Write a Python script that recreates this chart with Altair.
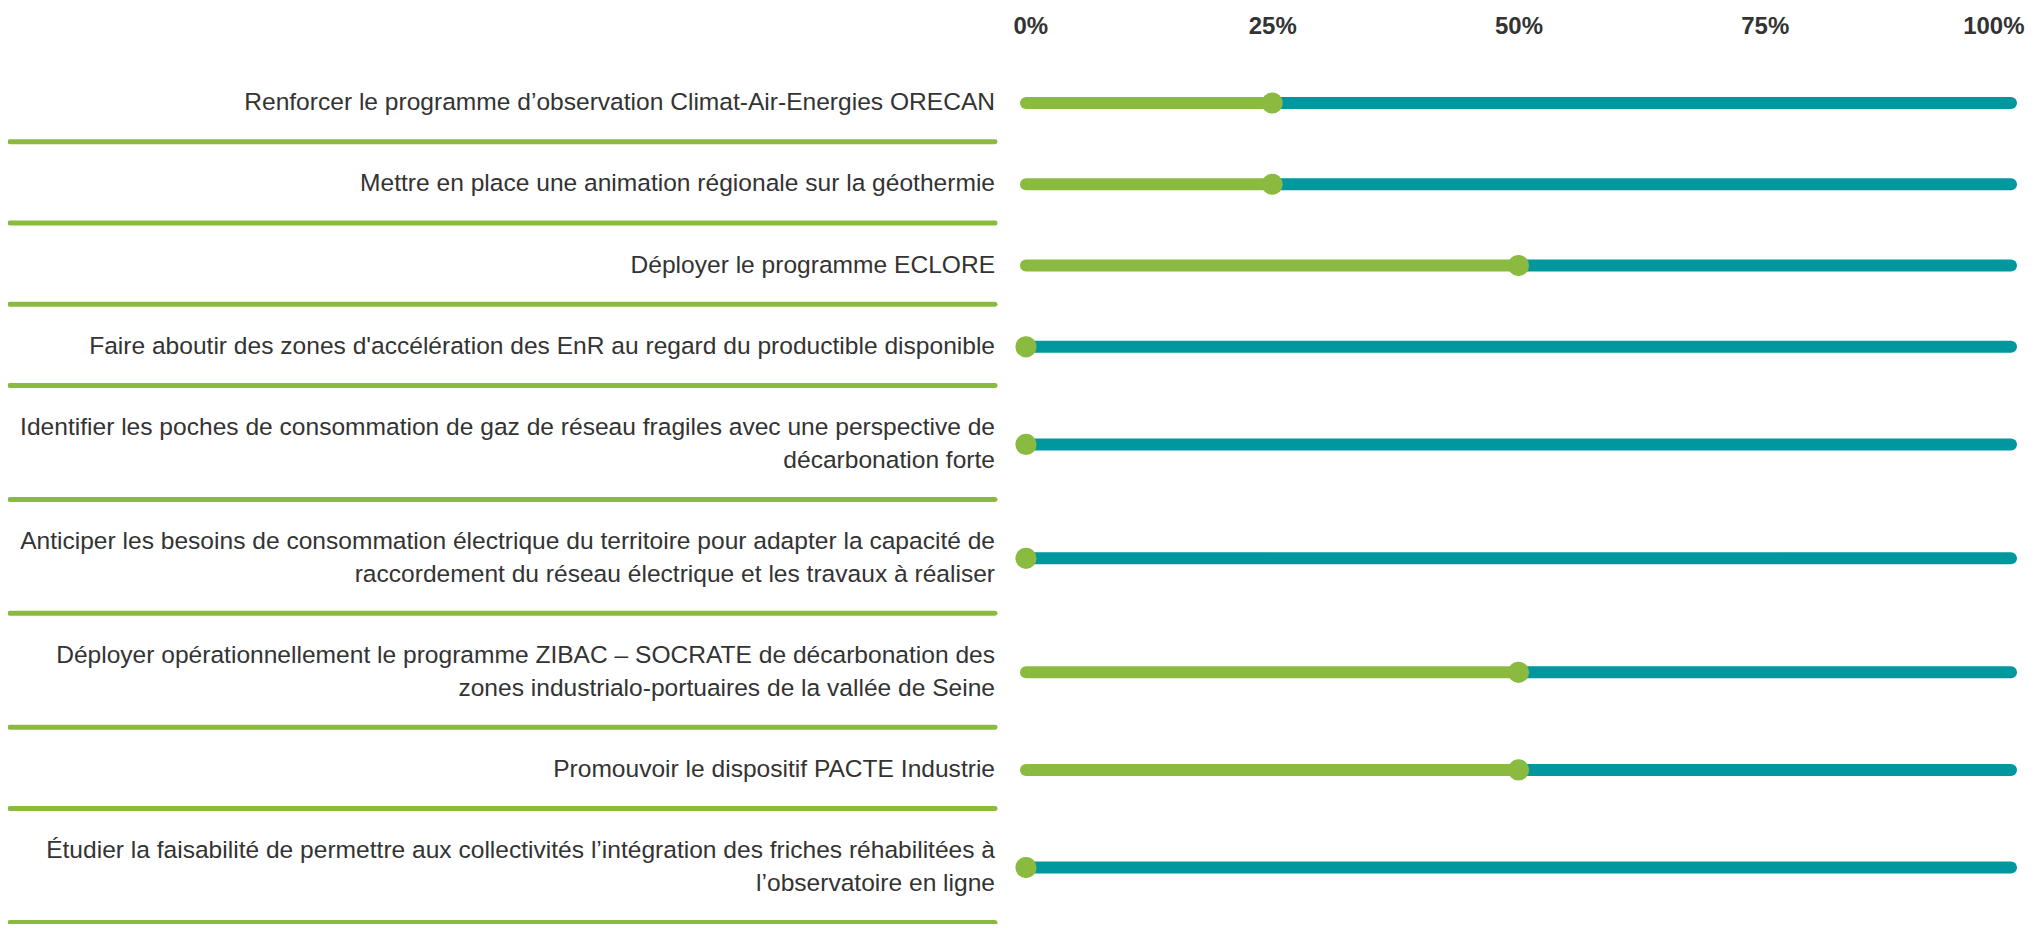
import altair as alt
import pandas as pd

labels = [
    "Renforcer le programme d’observation Climat-Air-Energies ORECAN",
    "Mettre en place une animation régionale sur la géothermie",
    "Déployer le programme ECLORE",
    "Faire aboutir des zones d'accélération des EnR au regard du productible disponible",
    "Identifier les poches de consommation de gaz de réseau fragiles avec une perspective de\ndécarbonation forte",
    "Anticiper les besoins de consommation électrique du territoire pour adapter la capacité de\nraccordement du réseau électrique et les travaux à réaliser",
    "Déployer opérationnellement le programme ZIBAC – SOCRATE de décarbonation des\nzones industrialo-portuaires de la vallée de Seine",
    "Promouvoir le dispositif PACTE Industrie",
    "Étudier la faisabilité de permettre aux collectivités l’intégration des friches réhabilitées à\nl’observatoire en ligne",
]
values = [25, 25, 50, 0, 0, 0, 50, 50, 0]
tick_values = [0, 25, 50, 75, 100]

GREEN = "#8ABA3F"
TEAL = "#00979F"
TEXT = "#333333"
LINE_H = 33

# row layout: rows with two text lines are taller
n_lines = [lab.count("\n") + 1 for lab in labels]
row_h = [82 + LINE_H * (n - 1) for n in n_lines]
centers, bottoms, text_y = [], [], []
acc = 0
for h, n in zip(row_h, n_lines):
    c = acc + h / 2 + 2
    centers.append(c)
    text_y.append(c - LINE_H * (n - 1) / 2)
    acc += h
    bottoms.append(acc)
total = acc

df = pd.DataFrame({
    "label": labels,
    "value": values,
    "full": [100] * len(labels),
    "zero": [0] * len(labels),
    "center": centers,
    "text_y": text_y,
    "bottom": bottoms,
})

xscale = alt.Scale(domain=[0, 100], nice=False)
yscale = alt.Scale(domain=[0, total], reverse=True, nice=False, zero=False)

xaxis = alt.Axis(
    orient="top", values=tick_values, labelExpr="datum.value + '%'",
    title=None, domain=False, ticks=False, tickSize=0, grid=False,
    labelFontWeight="bold", labelFontSize=24, labelColor=TEXT,
    labelFont="Liberation Sans", labelPadding=22, labelFlush=True,
    labelFlushOffset=13,
)

X = lambda f: alt.X(f, scale=xscale, axis=xaxis)
Y = lambda f: alt.Y(f, scale=yscale, axis=None)

base = alt.Chart(df)

teal = base.mark_rule(color=TEAL, strokeWidth=12, strokeCap="round").encode(
    x=X("value:Q"), x2="full:Q", y=Y("center:Q"),
)

green = base.transform_filter("datum.value > 0").mark_rule(
    color=GREEN, strokeWidth=12, strokeCap="round"
).encode(x=X("zero:Q"), x2="value:Q", y=Y("center:Q"))

dots = base.mark_circle(color=GREEN, size=450, opacity=1).encode(
    x=X("value:Q"), y=Y("center:Q"),
)

text = base.mark_text(
    align="right", baseline="middle", fontSize=24.6, font="Liberation Sans",
    color=TEXT, lineBreak="\n", lineHeight=LINE_H,
).encode(x=alt.value(-31), y=Y("text_y:Q"), text="label:N")

seps = base.mark_rule(color=GREEN, strokeWidth=5, strokeCap="round").encode(
    x=alt.value(-1017), x2=alt.value(-31), y=Y("bottom:Q"),
)

chart = alt.layer(teal, green, dots, seps, text).properties(
    width=986,
    height=863,
    autosize=alt.AutoSizeParams(type="none"),
    padding={"left": 1019, "top": 52, "right": 15, "bottom": 1},
).configure_view(stroke=None)

chart.save("out.html", embed_options={"renderer": "svg", "actions": False})
